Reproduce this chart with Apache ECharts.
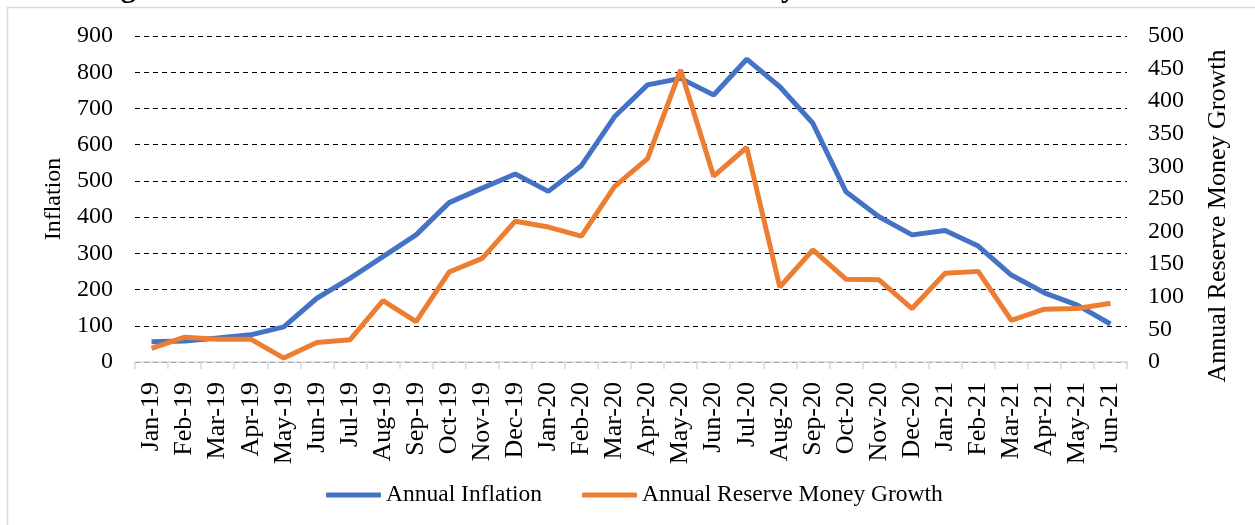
<!DOCTYPE html>
<html lang="en">

<head>
    <meta charset="UTF-8">
    <title>Annual Inflation and Reserve Money Growth</title>
    <script src="https://cdnjs.cloudflare.com/ajax/libs/echarts/6.0.0/echarts.min.js"></script>
    <style>
        html, body { margin: 0; padding: 0; background: #fff; }
        #echart { width: 1255px; height: 525px; }
    </style>
</head>

<body>
    <div id="echart"></div>

    <script>
        // data
        const months = ['Jan-19', 'Feb-19', 'Mar-19', 'Apr-19', 'May-19', 'Jun-19', 'Jul-19', 'Aug-19', 'Sep-19', 'Oct-19',
            'Nov-19', 'Dec-19', 'Jan-20', 'Feb-20', 'Mar-20', 'Apr-20', 'May-20', 'Jun-20', 'Jul-20', 'Aug-20',
            'Sep-20', 'Oct-20', 'Nov-20', 'Dec-20', 'Jan-21', 'Feb-21', 'Mar-21', 'Apr-21', 'May-21', 'Jun-21'];
        const annualInflation = [56, 58, 66, 75, 97, 176, 231, 291, 351, 440,
            480, 519, 471, 542, 677, 765, 783, 737, 836, 760,
            659, 470, 401, 351, 363, 320, 240, 191, 157, 105];
        const reserveMoneyGrowth = [21, 38, 35, 35, 6, 30, 34, 94, 62, 138,
            159, 216, 207, 193, 269, 312, 448, 285, 329, 115,
            172, 127, 126, 82, 136, 139, 64, 81, 82, 90];
        const inflationTicks = { min: 0, max: 900, interval: 100 };
        const growthTicks = { min: 0, max: 500, interval: 50 };

        const font = 'Liberation Serif';
        const chart = echarts.init(document.getElementById('echart'));

        const option = {
            backgroundColor: '#fff',
            animation: false,
            textStyle: { fontFamily: font, color: '#000' },
            graphic: [
                {
                    type: 'rect',
                    shape: { x: 7.5, y: 7.5, width: 1300, height: 600 },
                    style: { fill: 'none', stroke: '#d9d9d9', lineWidth: 1.5 },
                    silent: true
                },
                {
                    // title sits mostly above the picture, only descenders show
                    type: 'text',
                    left: 94,
                    top: -26,
                    style: {
                        text: 'Figure 1: Annual Inflation and Annual Reserve Money Growth',
                        font: 'bold 30px "Liberation Serif"',
                        fill: '#000'
                    },
                    silent: true
                }
            ],
            grid: { left: 135, right: 128, top: 36, bottom: 163 },
            legend: {
                left: 321,
                top: 478,
                itemWidth: 55,
                itemHeight: 5,
                itemGap: 40,
                icon: 'roundRect',
                textStyle: { fontFamily: font, fontSize: 23.5, color: '#000' },
                data: ['Annual Inflation', 'Annual Reserve Money Growth']
            },
            xAxis: {
                type: 'category',
                data: months,
                boundaryGap: true,
                axisLine: { lineStyle: { color: '#d9d9d9', width: 1.5 } },
                axisTick: { show: true, length: 7, lineStyle: { color: '#d9d9d9', width: 1.5 } },
                axisLabel: { rotate: 90, interval: 0, fontSize: 26, margin: 20, color: '#000', fontFamily: font }
            },
            yAxis: [
                {
                    type: 'value',
                    ...inflationTicks,
                    name: 'Inflation',
                    nameLocation: 'middle',
                    nameRotate: 90,
                    nameGap: 64,
                    nameTextStyle: { fontSize: 24, color: '#000', fontFamily: font },
                    axisLine: { show: false },
                    axisTick: { show: false },
                    axisLabel: { fontSize: 24, margin: 22, color: '#000', fontFamily: font },
                    splitLine: { lineStyle: { type: [5, 4], color: '#000', width: 1 } }
                },
                {
                    type: 'value',
                    ...growthTicks,
                    name: 'Annual Reserve Money Growth',
                    nameLocation: 'middle',
                    nameRotate: 90,
                    nameGap: 78,
                    nameTextStyle: { fontSize: 26, color: '#000', fontFamily: font, padding: [0, 34, 0, 0] },
                    axisLine: { show: false },
                    axisTick: { show: false },
                    axisLabel: { fontSize: 24, margin: 21, color: '#000', fontFamily: font },
                    splitLine: { show: false }
                }
            ],
            series: [
                {
                    name: 'Annual Inflation',
                    type: 'line',
                    data: annualInflation,
                    yAxisIndex: 0,
                    symbol: 'none',
                    color: '#4472C4',
                    lineStyle: { width: 5, color: '#4472C4' }
                },
                {
                    name: 'Annual Reserve Money Growth',
                    type: 'line',
                    data: reserveMoneyGrowth,
                    yAxisIndex: 1,
                    symbol: 'none',
                    color: '#ED7D31',
                    lineStyle: { width: 5, color: '#ED7D31' }
                }
            ]
        };
        chart.setOption(option);
    </script>
</body>

</html>
